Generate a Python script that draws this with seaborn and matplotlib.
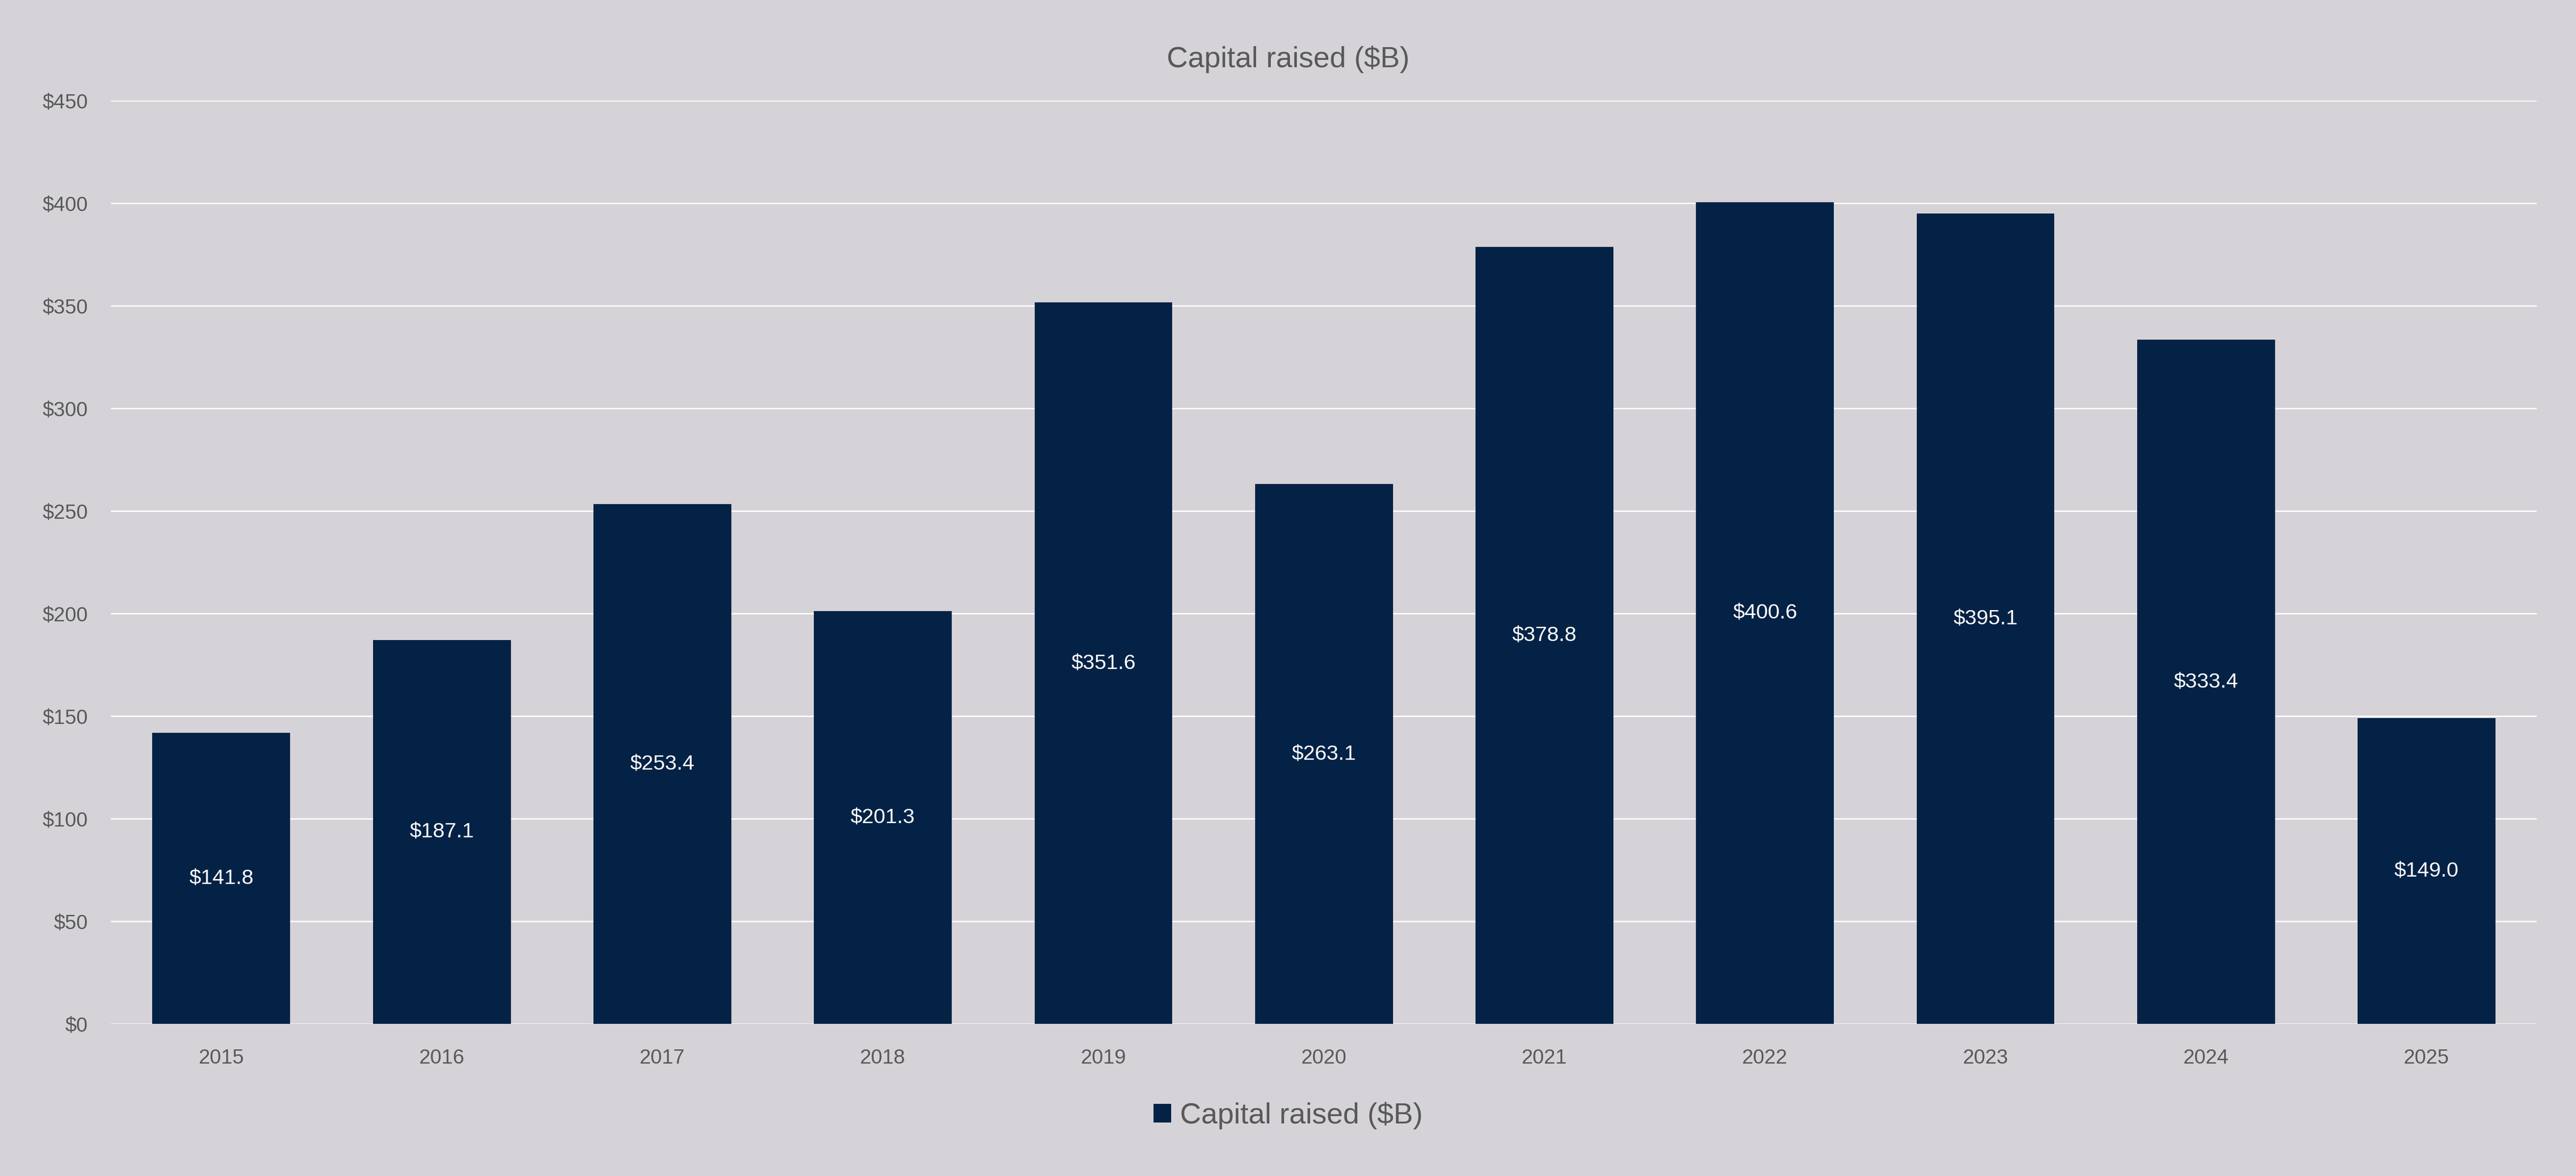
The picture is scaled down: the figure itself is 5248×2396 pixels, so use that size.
import matplotlib
matplotlib.use("Agg")
import matplotlib.pyplot as plt
import seaborn as sns
import pandas as pd

years = ["2015", "2016", "2017", "2018", "2019", "2020", "2021", "2022", "2023", "2024", "2025"]
capital_raised = [141.8, 187.1, 253.4, 201.3, 351.6, 263.1, 378.8, 400.6, 395.1, 333.4, 149.0]
yticks = [0, 50, 100, 150, 200, 250, 300, 350, 400, 450]
series_name = "Capital raised ($B)"

BG = "#D5D3D7"
BAR = "#042245"
TXT = "#595959"

sns.set_theme(style="white")
plt.rcParams["font.family"] = ["Liberation Sans", "DejaVu Sans"]

df = pd.DataFrame({"year": years, "value": capital_raised})

fig = plt.figure(figsize=(26.24, 11.98), dpi=200, facecolor=BG)
ax = fig.add_axes([0.0431, 0.1294, 0.9417, 0.785])
ax.set_facecolor(BG)

sns.barplot(data=df, x="year", y="value", color=BAR, width=0.625, saturation=1,
            ax=ax, zorder=3, linewidth=0, edgecolor=BAR)

ax.set_xlim(-0.5, len(years) - 0.5)
ax.set_ylim(0, 450)
ax.set_yticks(yticks)
ax.set_yticklabels([f"${v}" for v in yticks])
ax.yaxis.grid(True, color="white", linewidth=1.0, zorder=0)
ax.xaxis.grid(False)
for s in ax.spines.values():
    s.set_visible(False)
ax.tick_params(axis="both", length=0, labelsize=15, labelcolor=TXT)
ax.tick_params(axis="y", pad=17)
ax.tick_params(axis="x", pad=18)
ax.set_xlabel("")
ax.set_ylabel("")

ax.bar_label(ax.containers[0], labels=[f"${v:.1f}" for v in capital_raised],
             label_type="center", color="white", fontsize=15.5)

fig.text(0.5, 1 - 121 / 2396, series_name, ha="center", va="center",
         fontsize=21.5, color=TXT)

fig.legend(handles=[ax.containers[0]], labels=[series_name],
           loc="center", bbox_to_anchor=(0.5, 1 - 2273 / 2396),
           frameon=False, fontsize=21.5, handlelength=0.6, handleheight=0.6,
           handletextpad=0.3, labelcolor=TXT)

fig.savefig("out.png", dpi=200, facecolor=BG)
